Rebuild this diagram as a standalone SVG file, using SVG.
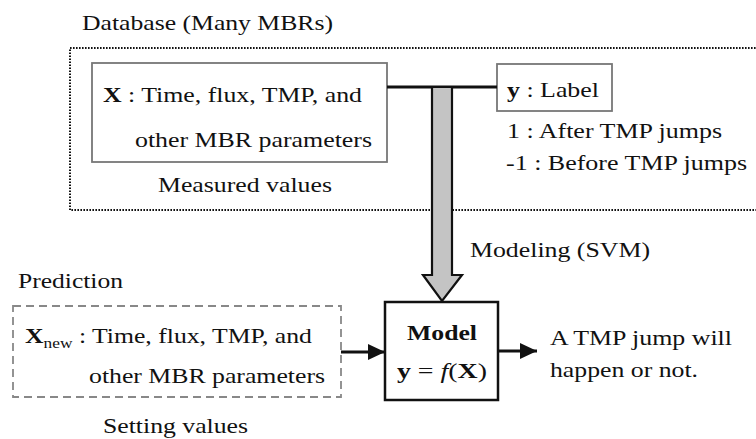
<svg xmlns="http://www.w3.org/2000/svg" width="756" height="439" viewBox="0 0 756 439">
<defs>
<style>
text{font-family:"Liberation Serif","Times New Roman",serif;font-size:21.5px;fill:#111;}
.b{font-weight:bold;}
.box{fill:#fff;stroke:#777;stroke-width:1.8;}
.conn{stroke:#111;stroke-width:3;fill:none;}
</style>
<marker id="ah" markerUnits="userSpaceOnUse" markerWidth="18" markerHeight="18" viewBox="0 0 18 18" refX="17" refY="9" orient="auto">
<path d="M0,1 L17,9 L0,17 Z" fill="#111"/>
</marker>
</defs>
<rect width="756" height="439" fill="#fff"/>

<g id="database">
<text x="82" y="30" textLength="251" lengthAdjust="spacingAndGlyphs">Database (Many MBRs)</text>
<rect x="70" y="48" width="690" height="162" fill="none" stroke="#111" stroke-width="2" stroke-dasharray="1.6,1.4"/>
</g>

<g id="x-box">
<rect class="box" x="92" y="63" width="295" height="99"/>
<text x="103" y="102" textLength="259" lengthAdjust="spacingAndGlyphs"><tspan class="b">X</tspan> : Time, flux, TMP, and</text>
<text x="135" y="147" textLength="237" lengthAdjust="spacingAndGlyphs">other MBR parameters</text>
<text x="158" y="192" textLength="174" lengthAdjust="spacingAndGlyphs">Measured values</text>
</g>

<g id="y-box">
<rect class="box" x="497" y="64" width="115" height="47"/>
<text x="507" y="97" textLength="92" lengthAdjust="spacingAndGlyphs"><tspan class="b">y</tspan> : Label</text>
<text x="507" y="138" textLength="215" lengthAdjust="spacingAndGlyphs">1 : After TMP jumps</text>
<text x="506" y="170" textLength="241" lengthAdjust="spacingAndGlyphs">-1 : Before TMP jumps</text>
</g>

<g id="connectors">
<line class="conn" x1="387" y1="87" x2="497" y2="87"/>
<path d="M432,87 L452,87 L452,275 L462,275 L442,301 L423,275 L432,275 Z" fill="#c4c4c4" stroke="#111" stroke-width="2.2" stroke-linejoin="miter"/>
<line class="conn" x1="341" y1="352" x2="385" y2="352" marker-end="url(#ah)"/>
<line class="conn" x1="498" y1="351" x2="537" y2="351" marker-end="url(#ah)"/>
</g>

<g id="modeling-label">
<text x="470" y="257" textLength="180" lengthAdjust="spacingAndGlyphs">Modeling (SVM)</text>
</g>

<g id="model">
<rect x="385" y="302" width="113" height="98" fill="#fff" stroke="#111" stroke-width="2.5"/>
<text class="b" x="442" y="340" text-anchor="middle" textLength="70" lengthAdjust="spacingAndGlyphs">Model</text>
<text x="442" y="378" text-anchor="middle" textLength="90" lengthAdjust="spacingAndGlyphs"><tspan class="b">y</tspan> = <tspan font-style="italic">f</tspan>(<tspan class="b">X</tspan>)</text>
</g>

<g id="result">
<text x="550" y="345" textLength="182" lengthAdjust="spacingAndGlyphs">A TMP jump will</text>
<text x="550" y="377" textLength="148" lengthAdjust="spacingAndGlyphs">happen or not.</text>
</g>

<g id="prediction">
<text x="18" y="288" textLength="105" lengthAdjust="spacingAndGlyphs">Prediction</text>
<rect x="13" y="306" width="328" height="91" fill="none" stroke="#888" stroke-width="1.8" stroke-dasharray="8,5"/>
<text x="25" y="343" textLength="287" lengthAdjust="spacingAndGlyphs"><tspan class="b">X</tspan><tspan font-size="14.5" dy="5">new</tspan><tspan dy="-5"> : Time, flux, TMP, and</tspan></text>
<text x="89" y="383" textLength="236" lengthAdjust="spacingAndGlyphs">other MBR parameters</text>
<text x="103" y="433" textLength="145" lengthAdjust="spacingAndGlyphs">Setting values</text>
</g>
</svg>
